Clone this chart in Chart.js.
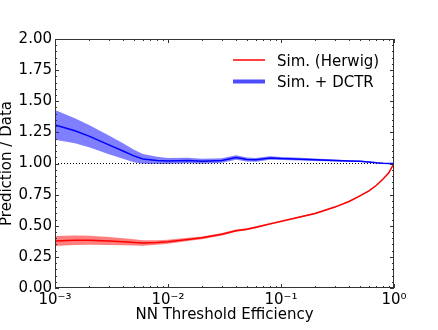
<!DOCTYPE html>
<html>
<head>
<meta charset="utf-8">
<script src="https://cdn.jsdelivr.net/npm/chart.js@4.4.1/dist/chart.umd.min.js"></script>
<style>
  body { margin: 0; background: #fff; }
  #wrap { width: 438px; height: 330px; }
</style>
</head>
<body>
<div id="wrap"><canvas id="ratioChart" width="438" height="330"></canvas></div>
<script>
// valeurs
const efficiency = [0.001, 0.0015, 0.002, 0.003, 0.004, 0.005, 0.006, 0.008, 0.01, 0.015, 0.02, 0.03, 0.04, 0.05,
                    0.06, 0.08, 0.1, 0.15, 0.2, 0.3, 0.4, 0.5, 0.6, 0.7, 0.8, 0.9, 0.95, 1.0];
const herwigRatio = [0.377, 0.383, 0.383, 0.378, 0.372, 0.366, 0.362, 0.366, 0.372, 0.39, 0.403, 0.432, 0.46, 0.472,
                     0.488, 0.515, 0.535, 0.572, 0.598, 0.65, 0.695, 0.74, 0.78, 0.825, 0.875, 0.925, 0.965, 1.0];
const herwigErr = [0.04, 0.038, 0.036, 0.032, 0.028, 0.025, 0.022, 0.018, 0.016, 0.013, 0.011, 0.01, 0.009, 0.008,
                   0.008, 0.007, 0.007, 0.006, 0.006, 0.005, 0.005, 0.004, 0.004, 0.003, 0.003, 0.002, 0.002, 0.001];
const dctrRatio = [1.31, 1.263, 1.22, 1.15, 1.10, 1.061, 1.037, 1.025, 1.02, 1.025, 1.018, 1.025, 1.048, 1.032,
                   1.03, 1.045, 1.04, 1.035, 1.03, 1.025, 1.02, 1.018, 1.012, 1.006, 1.002, 1.001, 1.0, 1.0];
const dctrErr = [0.12, 0.10, 0.09, 0.075, 0.062, 0.05, 0.04, 0.03, 0.025, 0.022, 0.02, 0.018, 0.018, 0.016,
                 0.015, 0.014, 0.012, 0.011, 0.01, 0.008, 0.007, 0.006, 0.005, 0.004, 0.003, 0.002, 0.002, 0.001];
const seriesNames = ["Sim. (Herwig)", "Sim. + DCTR"];
const xTickLabels = {"0.001": "10\u207B\u00B3", "0.01": "10\u207B\u00B2", "0.1": "10\u207B\u00B9", "1": "10\u2070"};

const FONT = "'DejaVu Sans', sans-serif";

function pts(vals, errs, sign) {
    return efficiency.map((x, i) => ({x: x, y: vals[i] + sign * (errs ? errs[i] : 0)}));
}

// ticks internes + cadre + légende
const frameTicks = {
    id: "frameTicks",
    afterDraw(chart) {
        const ctx = chart.ctx;
        const a = chart.chartArea;
        const xs = chart.scales.x, ys = chart.scales.y;
        ctx.save();
        ctx.strokeStyle = "#333";
        ctx.lineWidth = 1;
        ctx.strokeRect(a.left + 0.5, a.top + 0.5, a.right - a.left - 1, a.bottom - a.top - 1);
        ctx.beginPath();
        for (let e = -3; e <= 0; e++) {
            for (let k = 1; k <= 9; k++) {
                const v = k * Math.pow(10, e);
                if (v > 1.0001) break;
                const px = Math.round(xs.getPixelForValue(v)) + 0.5;
                const len = k === 1 ? 4 : 2;
                ctx.moveTo(px, a.bottom); ctx.lineTo(px, a.bottom - len);
                ctx.moveTo(px, a.top); ctx.lineTo(px, a.top + len);
            }
        }
        for (let i = 0; i <= 40; i++) {
            const v = i * 0.05;
            const py = Math.round(ys.getPixelForValue(v)) + 0.5;
            const len = i % 5 === 0 ? 4 : 2;
            ctx.moveTo(a.left, py); ctx.lineTo(a.left + len, py);
            ctx.moveTo(a.right, py); ctx.lineTo(a.right - len, py);
        }
        ctx.stroke();

        // légende
        ctx.font = "15px " + FONT;
        ctx.fillStyle = "#000";
        ctx.textBaseline = "alphabetic";
        ctx.lineWidth = 1.5;
        ctx.strokeStyle = "#ff0000";
        ctx.beginPath(); ctx.moveTo(233, 60); ctx.lineTo(265, 60); ctx.stroke();
        ctx.fillText(seriesNames[0], 277, 65.5);
        ctx.lineWidth = 4;
        ctx.strokeStyle = "#4d4dff";
        ctx.beginPath(); ctx.moveTo(233, 81.5); ctx.lineTo(265, 81.5); ctx.stroke();
        ctx.fillText(seriesNames[1], 277, 87);
        ctx.restore();
    }
};

document.addEventListener("DOMContentLoaded", () => {
    const ctx = document.getElementById("ratioChart").getContext("2d");
    new Chart(ctx, {
        type: "line",
        data: {
            datasets: [
                {data: pts(herwigRatio, null, 0), borderColor: "#ff0000", borderWidth: 1.5, pointRadius: 0, fill: false, order: 0},
                {data: pts(dctrRatio, null, 0), borderColor: "#0000ff", borderWidth: 1.5, pointRadius: 0, fill: false, order: 0},
                {data: pts(herwigRatio, herwigErr, -1), borderWidth: 0, pointRadius: 0, fill: false, order: 2},
                {data: pts(herwigRatio, herwigErr, 1), borderWidth: 0, pointRadius: 0, fill: "-1", backgroundColor: "rgba(255,0,0,0.5)", order: 2},
                {data: pts(dctrRatio, dctrErr, -1), borderWidth: 0, pointRadius: 0, fill: false, order: 2},
                {data: pts(dctrRatio, dctrErr, 1), borderWidth: 0, pointRadius: 0, fill: "-1", backgroundColor: "rgba(0,0,255,0.5)", order: 2},
                {data: [{x: 0.001, y: 1}, {x: 1, y: 1}], borderColor: "#000", borderWidth: 1, borderDash: [1, 2], pointRadius: 0, fill: false, order: 1}
            ]
        },
        options: {
            responsive: false,
            animation: false,
            devicePixelRatio: 1,
            layout: { padding: { top: 39, right: 44, left: 0, bottom: 0 } },
            plugins: { legend: { display: false }, tooltip: { enabled: false } },
            scales: {
                x: {
                    type: "logarithmic",
                    min: 0.001, max: 1,
                    grid: { display: false, drawTicks: false },
                    border: { display: false },
                    afterBuildTicks: s => {
                        s.ticks = [0.001, 0.01, 0.1, 1].map(v => ({value: v}));
                    },
                    afterFit: s => { s.height = 42; },
                    ticks: {
                        autoSkip: false, maxRotation: 0, padding: 3, color: "#000",
                        font: { family: FONT, size: 15 },
                        callback: v => xTickLabels[String(v)] || ""
                    },
                    title: {
                        display: true, text: "NN Threshold Efficiency", color: "#000",
                        font: { family: FONT, size: 15, lineHeight: 1 },
                        padding: { top: 0, bottom: 7 }
                    }
                },
                y: {
                    min: 0, max: 2,
                    grid: { display: false, drawTicks: false },
                    border: { display: false },
                    afterFit: s => { s.width = 55; },
                    ticks: {
                        stepSize: 0.25, padding: 3, color: "#000",
                        font: { family: FONT, size: 15 },
                        callback: v => v.toFixed(2)
                    },
                    title: {
                        display: true, text: "Prediction / Data", color: "#000",
                        font: { family: FONT, size: 15, lineHeight: 1 },
                        padding: { top: 0, bottom: 0 }
                    }
                }
            }
        },
        plugins: [frameTicks]
    });
});
</script>
</body>
</html>
